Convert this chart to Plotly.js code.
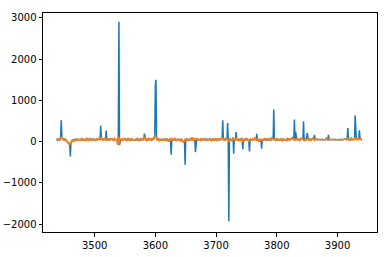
<!DOCTYPE html>
<html>
<head>
<meta charset="utf-8">
<script src="https://cdn.plot.ly/plotly-3.0.1.min.js"></script>
<style>html,body{margin:0;padding:0;background:#fff;}#chart{width:386px;height:257px;}</style>
</head>
<body>
<div id="chart"></div>
<script>
const xValues = [
3437,3438,3439,3440,3441,3442,3443,3444,3445,3446,3447,3448,3449,3450,3451,3452,3453,3454,3455,3456,
3457,3458,3459,3460,3461,3462,3463,3464,3465,3466,3467,3468,3469,3470,3471,3472,3473,3474,3475,3476,
3477,3478,3479,3480,3481,3482,3483,3484,3485,3486,3487,3488,3489,3490,3491,3492,3493,3494,3495,3496,
3497,3498,3499,3500,3501,3502,3503,3504,3505,3506,3507,3508,3509,3510,3511,3512,3513,3514,3515,3516,
3517,3518,3519,3520,3521,3522,3523,3524,3525,3526,3527,3528,3529,3530,3531,3532,3533,3534,3535,3536,
3537,3538,3539,3540,3541,3542,3543,3544,3545,3546,3547,3548,3549,3550,3551,3552,3553,3554,3555,3556,
3557,3558,3559,3560,3561,3562,3563,3564,3565,3566,3567,3568,3569,3570,3571,3572,3573,3574,3575,3576,
3577,3578,3579,3580,3581,3582,3583,3584,3585,3586,3587,3588,3589,3590,3591,3592,3593,3594,3595,3596,
3597,3598,3599,3600,3601,3602,3603,3604,3605,3606,3607,3608,3609,3610,3611,3612,3613,3614,3615,3616,
3617,3618,3619,3620,3621,3622,3623,3624,3625,3626,3627,3628,3629,3630,3631,3632,3633,3634,3635,3636,
3637,3638,3639,3640,3641,3642,3643,3644,3645,3646,3647,3648,3649,3650,3651,3652,3653,3654,3655,3656,
3657,3658,3659,3660,3661,3662,3663,3664,3665,3666,3667,3668,3669,3670,3671,3672,3673,3674,3675,3676,
3677,3678,3679,3680,3681,3682,3683,3684,3685,3686,3687,3688,3689,3690,3691,3692,3693,3694,3695,3696,
3697,3698,3699,3700,3701,3702,3703,3704,3705,3706,3707,3708,3709,3710,3711,3712,3713,3714,3715,3716,
3717,3718,3719,3720,3721,3722,3723,3724,3725,3726,3727,3728,3729,3730,3731,3732,3733,3734,3735,3736,
3737,3738,3739,3740,3741,3742,3743,3744,3745,3746,3747,3748,3749,3750,3751,3752,3753,3754,3755,3756,
3757,3758,3759,3760,3761,3762,3763,3764,3765,3766,3767,3768,3769,3770,3771,3772,3773,3774,3775,3776,
3777,3778,3779,3780,3781,3782,3783,3784,3785,3786,3787,3788,3789,3790,3791,3792,3793,3794,3795,3796,
3797,3798,3799,3800,3801,3802,3803,3804,3805,3806,3807,3808,3809,3810,3811,3812,3813,3814,3815,3816,
3817,3818,3819,3820,3821,3822,3823,3824,3825,3826,3827,3828,3829,3830,3831,3832,3833,3834,3835,3836,
3837,3838,3839,3840,3841,3842,3843,3844,3845,3846,3847,3848,3849,3850,3851,3852,3853,3854,3855,3856,
3857,3858,3859,3860,3861,3862,3863,3864,3865,3866,3867,3868,3869,3870,3871,3872,3873,3874,3875,3876,
3877,3878,3879,3880,3881,3882,3883,3884,3885,3886,3887,3888,3889,3890,3891,3892,3893,3894,3895,3896,
3897,3898,3899,3900,3901,3902,3903,3904,3905,3906,3907,3908,3909,3910,3911,3912,3913,3914,3915,3916,
3917,3918,3919,3920,3921,3922,3923,3924,3925,3926,3927,3928,3929,3930,3931,3932,3933,3934,3935,3936,
3937,3938,3939,3940];

const rawSeries = [
40,55,35,60,50,70,45,65,520,130,80,60,45,70,40,55,35,20,10,-10,
-30,-55,-40,-360,-20,10,30,15,45,25,50,35,60,40,55,30,65,45,50,40,
60,35,55,70,45,50,30,65,40,55,75,45,60,35,50,70,40,55,65,45,
50,70,40,60,55,35,65,80,45,60,50,90,40,390,110,55,45,70,35,60,
85,50,270,40,55,75,30,60,45,70,50,85,40,60,35,55,75,45,60,50,
30,-70,130,2910,-80,40,65,30,55,70,40,60,50,75,45,55,35,65,50,70,
45,60,35,55,70,40,60,50,45,65,55,40,60,75,45,55,35,60,50,65,
40,55,70,45,60,195,80,45,60,35,55,70,40,60,85,50,65,40,60,75,
55,90,150,1350,1500,80,55,70,40,60,35,55,45,65,30,50,60,40,55,65,
45,60,35,55,40,20,50,65,30,-317,45,70,50,40,60,75,45,55,35,50,
60,45,55,35,50,30,60,40,-10,20,-20,40,-560,45,55,70,40,50,35,55,
65,40,70,55,110,60,20,45,60,-250,50,70,40,55,65,45,50,35,60,45,
55,70,40,60,50,75,35,55,45,65,40,60,50,70,45,55,35,60,50,65,
40,55,70,45,60,35,50,75,30,65,80,45,60,100,520,40,70,50,35,60,
110,65,455,30,-1930,50,70,45,20,55,65,100,-290,70,35,60,235,75,50,55,
30,60,45,20,70,80,50,-180,40,60,35,55,70,40,65,45,60,0,-235,45,
60,40,55,70,45,60,50,110,65,40,190,30,60,45,0,50,35,60,-170,55,
40,60,50,70,45,55,65,40,60,50,70,45,55,40,60,110,75,50,780,45,
55,40,60,70,35,55,60,40,50,65,45,60,30,55,70,40,60,50,45,60,
40,70,50,60,45,80,55,65,110,90,70,45,537,40,240,70,45,60,50,65,
50,30,65,90,55,80,40,495,20,55,70,45,60,212,75,40,55,65,45,70,
40,60,55,90,50,170,60,45,55,65,50,45,55,60,50,55,45,55,60,50,
50,55,60,50,90,55,50,45,170,60,50,55,50,55,60,50,55,50,55,60,
55,50,60,55,50,55,60,55,50,60,55,50,55,60,65,55,60,70,55,90,
335,50,55,40,65,50,80,60,45,55,50,60,635,65,50,70,60,90,55,275,
60,80,55,70];

const smoothSeries = [
40,55,35,60,50,70,45,65,95,130,80,60,45,70,40,55,35,20,10,-10,
-30,-55,-40,-60,-20,10,30,15,45,25,50,35,60,40,55,30,65,45,50,40,
60,35,55,70,45,50,30,65,40,55,75,45,60,35,50,70,40,55,65,45,
50,70,40,60,55,35,65,80,45,60,50,90,40,75,110,55,45,70,35,60,
85,50,65,40,55,75,30,60,45,70,50,85,40,60,35,55,75,45,60,50,
30,-70,130,-80,90,40,65,30,55,70,40,60,50,75,45,55,35,65,50,70,
45,60,35,55,70,40,60,50,45,65,55,40,60,75,45,55,35,60,50,65,
40,55,70,45,60,100,80,45,60,35,55,70,40,60,85,50,65,40,60,75,
55,90,150,130,110,80,55,70,40,60,35,55,45,65,30,50,60,40,55,65,
45,60,35,55,40,20,50,65,30,60,45,70,50,40,60,75,45,55,35,50,
60,45,55,35,50,30,60,40,-10,20,-20,40,60,45,55,70,40,50,35,55,
65,40,70,55,110,60,20,45,60,90,50,70,40,55,65,45,50,35,60,45,
55,70,40,60,50,75,35,55,45,65,40,60,50,70,45,55,35,60,50,65,
40,55,70,45,60,35,50,75,30,65,80,45,60,100,55,40,70,50,35,60,
110,65,40,30,-10,50,70,45,20,55,65,100,40,70,35,60,45,75,50,55,
30,60,45,20,70,80,50,0,40,60,35,55,70,40,65,45,60,0,50,45,
60,40,55,70,45,60,50,110,65,40,55,30,60,45,0,50,35,60,45,55,
40,60,50,70,45,55,65,40,60,50,70,45,55,40,60,110,75,50,60,45,
55,40,60,70,35,55,60,40,50,65,45,60,30,55,70,40,60,50,45,60,
40,70,50,60,45,80,55,65,110,90,70,45,60,40,55,70,45,60,50,65,
50,30,65,90,55,80,40,60,20,55,70,45,60,50,75,40,55,65,45,70,
40,60,55,90,50,30,60,45,55,65,50,45,55,60,50,55,45,55,60,50,
50,55,60,50,90,55,50,45,55,60,50,55,50,55,60,50,55,50,55,60,
55,50,60,55,50,55,60,55,50,60,55,50,55,60,65,55,60,70,55,90,
60,50,55,40,65,50,80,60,45,55,50,60,110,65,50,70,60,90,55,70,
60,80,55,70];

const xTicks = [3500, 3600, 3700, 3800, 3900];
const yTicks = [-2000, -1000, 0, 1000, 2000, 3000];

const traces = [
  {x: xValues, y: rawSeries, type: 'scatter', mode: 'lines',
   line: {color: '#1f77b4', width: 1.5}, hoverinfo: 'skip'},
  {x: xValues, y: smoothSeries, type: 'scatter', mode: 'lines',
   line: {color: '#ff7f0e', width: 1.5}, hoverinfo: 'skip'}
];

const axisCommon = {
  showline: true, mirror: true, linecolor: '#000', linewidth: 1,
  ticks: 'outside', ticklen: 3.5, tickwidth: 1, tickcolor: '#000',
  showgrid: false, zeroline: false,
  tickfont: {family: 'DejaVu Sans', size: 10, color: '#000'}
};

const layout = {
  width: 386, height: 257,
  margin: {l: 43, r: 9, t: 13, b: 25, pad: 0},
  paper_bgcolor: '#fff', plot_bgcolor: '#fff',
  showlegend: false,
  xaxis: Object.assign({}, axisCommon, {range: [3415, 3965], tickvals: xTicks, ticktext: xTicks.map(String)}),
  yaxis: Object.assign({}, axisCommon, {range: [-2188, 3121], tickvals: yTicks, ticktext: yTicks.map(v => v < 0 ? '\u2212' + Math.abs(v) : String(v))})
};

Plotly.newPlot('chart', traces, layout, {staticPlot: true, displayModeBar: false});
</script>
</body>
</html>
